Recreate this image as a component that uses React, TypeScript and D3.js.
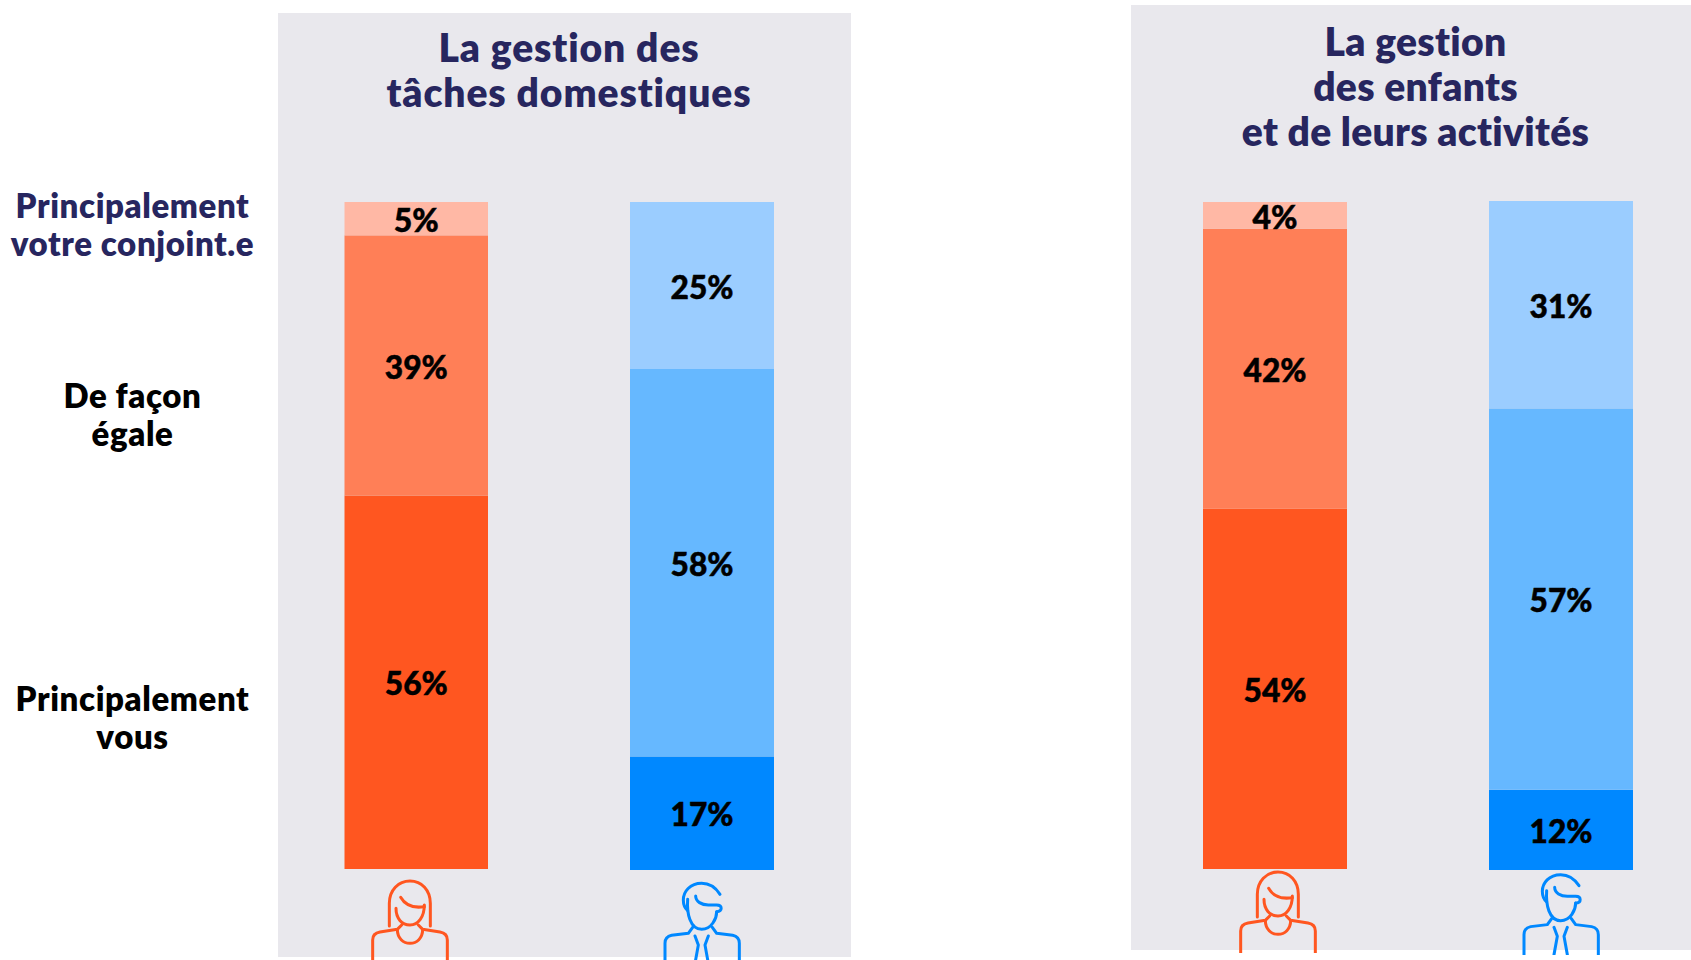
import React from "react";
import * as d3 from "d3";

const NAVY = "#27265f";
const rowLabels = [
  { lines: ["Principalement", "votre conjoint.e"], color: NAVY, y: 207 },
  { lines: ["De façon", "égale"], color: "#000", y: 397 },
  { lines: ["Principalement", "vous"], color: "#000", y: 700 },
];
const levels = ["vous", "egale", "conjoint"];
const womanColors = ["#ff5620", "#ff7f57", "#ffb8a5"];
const manColors = ["#0088ff", "#66b8ff", "#9bcdff"];

const panel1Title = ["La gestion des", "tâches domestiques"];
const panel1Woman = [56, 39, 5];
const panel1Man = [17, 58, 25];
const panel2Title = ["La gestion", "des enfants", "et de leurs activités"];
const panel2Woman = [54, 42, 4];
const panel2Man = [12, 57, 31];

const F = "Lato, 'Noto Sans', sans-serif";

function Bar({ values, colors, x, w, top, bottom }: any) {
  const y = d3.scaleLinear().domain([0, 100]).range([bottom, top]);
  const stack = d3.stack().keys(levels)([
    Object.fromEntries(levels.map((k, i) => [k, values[i]])) as any,
  ]);
  return (
    <g>
      {stack.map((s, i) => {
        const [a, b] = s[0];
        return (
          <rect key={i} x={x} width={w} y={y(b)} height={y(a) - y(b)} fill={colors[i]} />
        );
      })}
      {stack.map((s, i) => {
        const [a, b] = s[0];
        return (
          <text
            key={i}
            x={x + w / 2}
            y={(y(a) + y(b)) / 2 + 2}
            dy="0.35em"
            textAnchor="middle"
            fontFamily={F}
            fontWeight={900}
            fontSize={32}
            fill="#000"
            stroke="#000"
            strokeWidth={0.5}
            textLength={values[i] < 10 ? 45 : 63}
            lengthAdjust="spacingAndGlyphs"
          >
            {values[i]}%
          </text>
        );
      })}
    </g>
  );
}

function Woman({ dx, dy, clipId }: any) {
  return (
    <g clipPath={`url(#${clipId})`}>
      <g
        transform={`translate(${340 + dx},${850 + dy}) scale(${1 / 3})`}
        fill="none"
        stroke="#ff5620"
        strokeWidth={9}
        strokeLinecap="round"
        strokeLinejoin="round"
      >
        <path d="M148 228V160C148 120 175 93 210 93C245 93 271 120 271 160V228" />
        <path d="M182 142C195 165 220 175 253 170" />
        <path d="M168 175C168 205 185 225 210 225C235 225 253 200 253 165" />
        <path d="M98 340V270C98 255 108 248 120 246L172 238L185 225" />
        <path d="M322 340V270C322 255 312 248 300 246L248 238L235 225" />
        <path d="M172 238C172 265 190 280 210 280C230 280 248 265 248 238" />
      </g>
    </g>
  );
}

function Man({ dx, dy, clipId }: any) {
  return (
    <g clipPath={`url(#${clipId})`}>
      <g
        transform={`translate(${340 + dx},${850 + dy}) scale(${1 / 3})`}
        fill="none"
        stroke="#0088ff"
        strokeWidth={9}
        strokeLinecap="round"
        strokeLinejoin="round"
      >
        <path d="M1140 133C1125 110 1105 100 1085 100C1050 100 1030 125 1030 150C1030 165 1035 175 1043 182" />
        <path d="M1043 148C1040 190 1050 238 1085 238C1115 238 1130 205 1130 185" />
        <path d="M1067 138C1067 155 1085 165 1105 165H1130C1148 165 1148 185 1130 185" />
        <path d="M975 340V280C975 265 985 258 995 256L1045 250L1058 232" />
        <path d="M1198 340V280C1198 265 1188 258 1178 256L1130 250L1117 232" />
        <path d="M1065 258L1075 285L1065 340" />
        <path d="M1105 258L1095 285L1105 340" />
      </g>
    </g>
  );
}

function Lines({ lines, x, y, lh, size, color, ls }: any) {
  return (
    <text
      fontFamily={F}
      fontWeight={800}
      fontSize={size}
      fill={color}
      textAnchor="middle"
      letterSpacing={ls}
    >
      {lines.map((t: string, i: number) => (
        <tspan key={i} x={x} y={y + i * lh}>
          {t}
        </tspan>
      ))}
    </text>
  );
}

export default function App() {
  return (
    <svg
      width={1691}
      height={960}
      style={{ position: "absolute", left: 0, top: 0, background: "#fff" }}
    >
      <defs>
        <clipPath id="c1"><rect x={0} y={0} width={1691} height={960} /></clipPath>
        <clipPath id="c2"><rect x={0} y={0} width={1691} height={953} /></clipPath>
        <clipPath id="c3"><rect x={0} y={0} width={1691} height={955} /></clipPath>
      </defs>
      <rect x={278} y={13} width={573} height={944} fill="#e9e8ed" />
      <rect x={1131} y={5} width={560} height={945} fill="#e9e8ed" />

      {rowLabels.map((r, i) => (
        <Lines key={i} lines={r.lines} x={132.5} y={r.y + 11} lh={38} size={33} ls={0.6} color={r.color} />
      ))}

      <Lines lines={panel1Title} x={569} y={62} lh={45} size={39} ls={0.9} color={NAVY} />
      <Lines lines={panel2Title} x={1415.5} y={56} lh={45} size={39} ls={0.3} color={NAVY} />

      <Bar values={panel1Woman} colors={womanColors} x={344.5} w={143.5} top={202} bottom={869} />
      <Bar values={panel1Man} colors={manColors} x={630} w={144} top={202} bottom={870} />
      <Bar values={panel2Woman} colors={womanColors} x={1203} w={144} top={202} bottom={869} />
      <Bar values={panel2Man} colors={manColors} x={1489} w={144} top={201} bottom={870} />

      <Woman dx={0} dy={0} clipId="c1" />
      <Man dx={0} dy={0} clipId="c1" />
      <Woman dx={868} dy={-9} clipId="c2" />
      <Man dx={859} dy={-8.7} clipId="c3" />
    </svg>
  );
}
